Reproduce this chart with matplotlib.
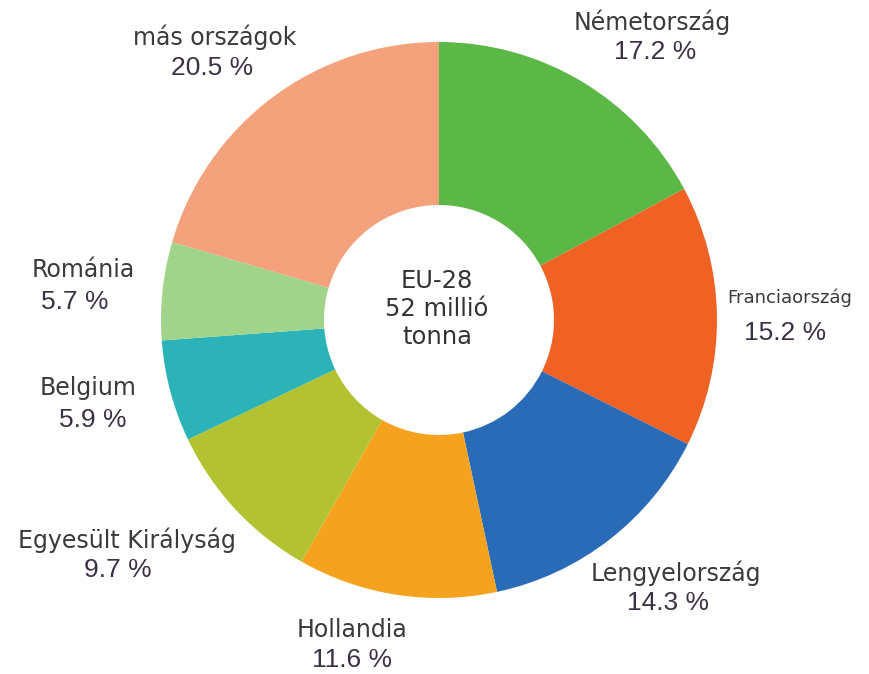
import matplotlib.pyplot as plt

# adatok
orszagok = ['Németország', 'Franciaország', 'Lengyelország', 'Hollandia',
            'Egyesült Királyság', 'Belgium', 'Románia', 'más országok']
szazalek = [17.2, 15.2, 14.3, 11.6, 9.7, 5.9, 5.7, 20.5]
szinek = ['#5cb846', '#ef6224', '#2a6bb8', '#f5a31f',
          '#b3c231', '#2bb3b8', '#9fd48a', '#f4a27b']
pct_cimkek = ['17.2 %', '15.2 %', '14.3 %', '11.6 %', '9.7 %', '5.9 %', '5.7 %', '20.5 %']

# cimkek helye (kep pixelben, felulrol)
nev_pos = [(652, 22), (790, 298), (676, 573), (352, 630),
           (127, 540), (88, 388), (83, 270), (215, 37)]
pct_pos = [(655, 52), (785, 333), (668, 603), (352, 660),
           (118, 570), (93, 420), (75, 302), (212, 68)]

W, H = 869, 674
fig = plt.figure(figsize=(W / 100, H / 100), dpi=100)
ax = fig.add_axes([0, 0, 1, 1])

ax.pie(szazalek, colors=szinek, startangle=90, counterclock=False,
       center=(439, H - 320), radius=278,
       wedgeprops=dict(width=278 - 115, edgecolor='none'))

ax.set_xlim(0, W)
ax.set_ylim(0, H)
ax.set_aspect('equal')
ax.axis('off')

nev_szin = '#3a3a3a'
pct_szin = '#3b3046'
for i, nev in enumerate(orszagok):
    nx, ny = nev_pos[i]
    px, py = pct_pos[i]
    meret = 13 if nev == 'Franciaország' else 17
    ax.text(nx, H - ny, nev, ha='center', va='center', fontsize=meret,
            color=nev_szin, family='DejaVu Sans')
    ax.text(px, H - py, pct_cimkek[i], ha='center', va='center', fontsize=19,
            color=pct_szin, family='Liberation Sans')

ax.text(437, H - 309, 'EU-28\n52 millió\ntonna', ha='center', va='center',
        fontsize=17.5, color='#333333', linespacing=1.2, family='DejaVu Sans')

fig.savefig('out.png', dpi=100)
